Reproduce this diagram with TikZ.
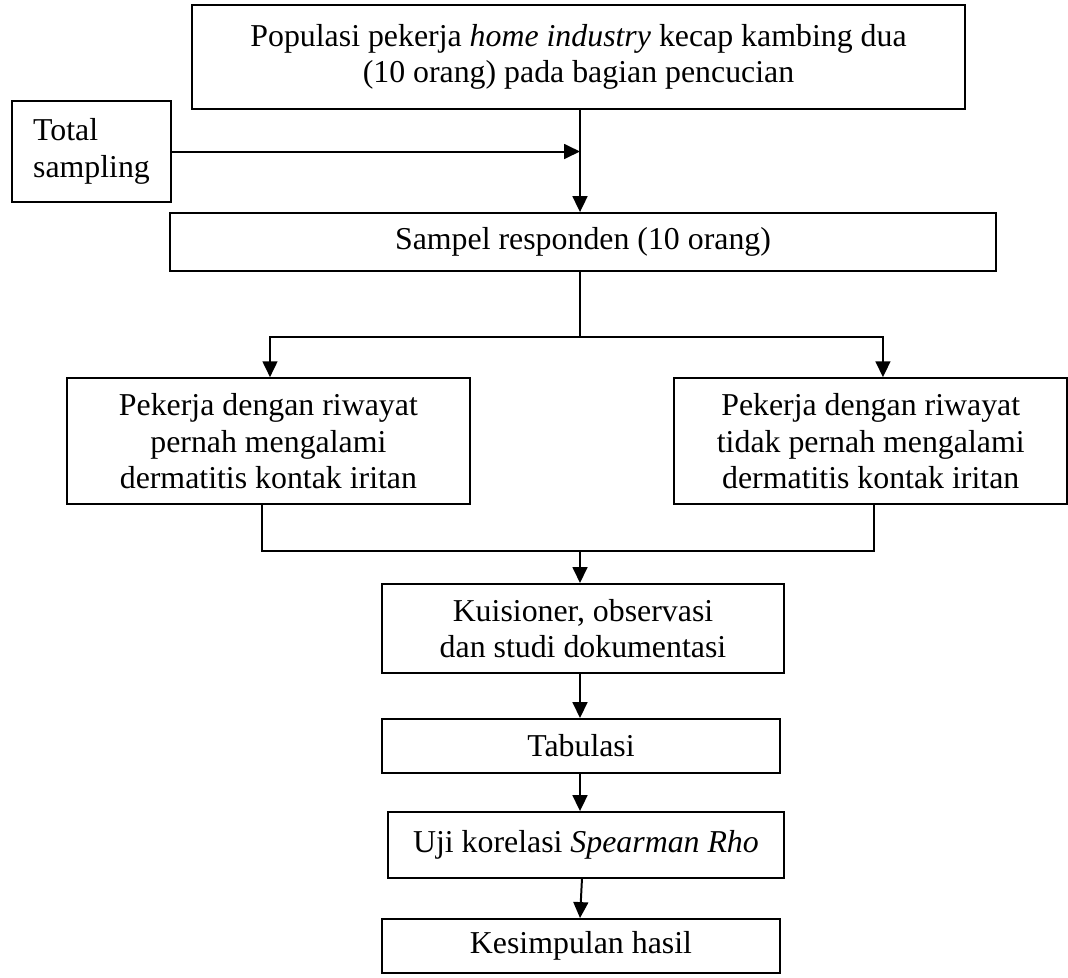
\documentclass[tikz,border=0pt]{standalone}
\usepackage{fontspec}
\setmainfont{Liberation Serif}
\usepackage{tikz}
\usetikzlibrary{arrows.meta, positioning}

\begin{document}
\begin{tikzpicture}[
    x=0.01325cm, y=-0.01325cm,
    box/.style={rectangle, draw, line width=0.75pt, align=center, inner sep=0pt, font=\fontsize{12}{13.8}\selectfont},
    arr/.style={-{Triangle[length=6pt, width=5.6pt]}, line width=0.75pt},
    conn/.style={line width=0.75pt}
]
\useasboundingbox (0,0) rectangle (1068,977);

\node[box, minimum width=10.24cm, minimum height=1.378cm] (pop) at (578.5,57) {Populasi pekerja \textit{home industry} kecap kambing dua\\(10 orang) pada bagian pencucian};
\node[box, align=left, minimum width=2.107cm, minimum height=1.338cm] (total) at (91.5,151.5) {Total\\sampling};
\node[box, minimum width=10.94cm, minimum height=0.769cm, below=1.352cm of pop, xshift=0.06cm] (sampel) {Sampel responden (10 orang)};
\node[box, minimum width=5.34cm, minimum height=1.67cm, below=1.391cm of sampel, xshift=-4.167cm] (kiri) {Pekerja dengan riwayat\\pernah mengalami\\dermatitis kontak iritan};
\node[box, minimum width=5.21cm, minimum height=1.67cm, right=2.676cm of kiri] (kanan) {Pekerja dengan riwayat\\tidak pernah mengalami\\dermatitis kontak iritan};
\node[box, minimum width=5.327cm, minimum height=1.179cm] (kuis) at (583,628.5) {Kuisioner, observasi\\dan studi dokumentasi};
\node[box, minimum width=5.274cm, minimum height=0.716cm, below=0.583cm of kuis, xshift=-0.027cm] (tab) {Tabulasi};
\node[box, minimum width=5.247cm, minimum height=0.87cm, below=0.49cm of tab, xshift=0.066cm] (uji) {Uji korelasi \textit{Spearman Rho}};
\node[box, minimum width=5.274cm, minimum height=0.72cm, below=0.52cm of uji, xshift=-0.066cm] (kes) {Kesimpulan hasil};

% main line
\coordinate (spine) at (580,0);
\coordinate (split) at (580,337);
\coordinate (join) at (580,551);

\draw[arr] (pop.south -| spine) -- (sampel.north -| spine);
\draw[arr] (total.east) -- (total.east -| spine);

\draw[conn] (sampel.south -| spine) -- (split);
\draw[arr] (split) -| ([xshift=0.6pt]kiri.north);
\draw[arr] (split) -| ([xshift=4.6pt]kanan.north);

\draw[conn] ([xshift=-2.5pt]kiri.south) |- (join);
\draw[conn] ([xshift=1.4pt]kanan.south) |- (join);
\draw[arr] (join) -- (kuis.north -| join);

\draw[arr] (kuis.south -| spine) -- (tab.north -| spine);
\draw[arr] (tab.south -| spine) -- (uji.north -| spine);
\draw[arr] ([xshift=-1.5pt]uji.south) -- (kes.north -| spine);
\end{tikzpicture}
\end{document}
